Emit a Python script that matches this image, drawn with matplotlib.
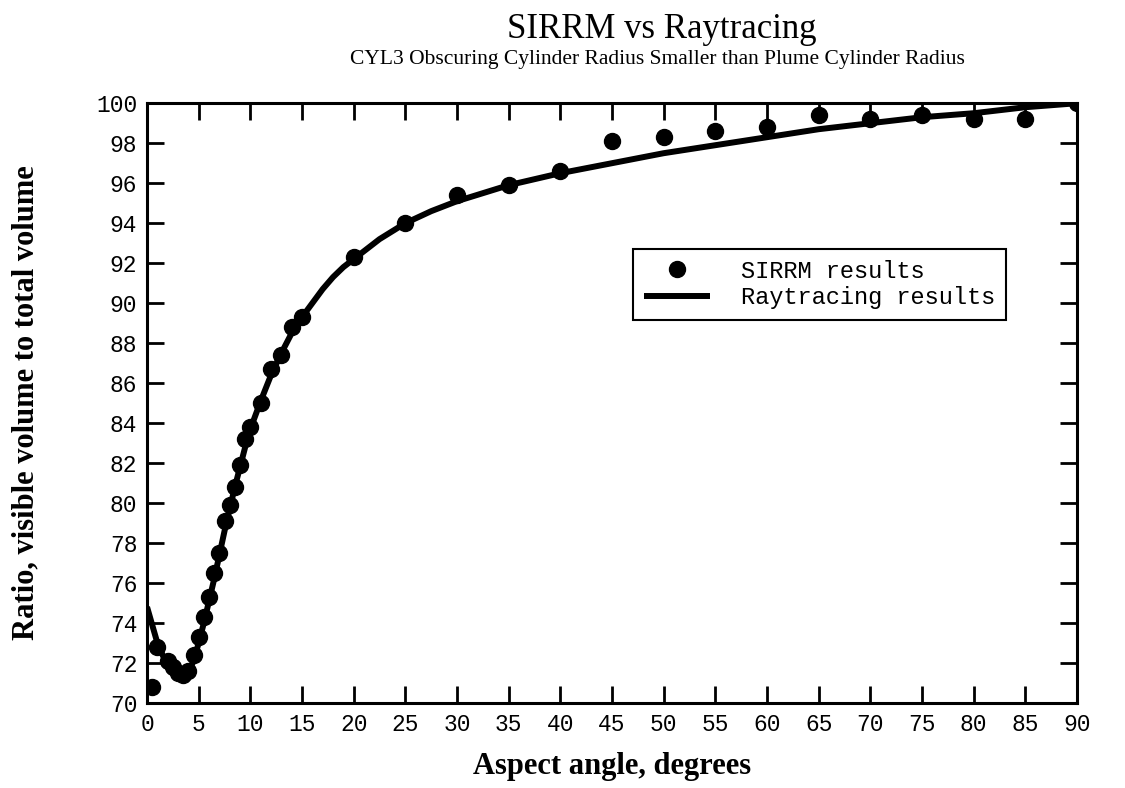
import matplotlib
matplotlib.use("Agg")
import matplotlib.pyplot as plt
from matplotlib.ticker import MultipleLocator

# SIRRM results (aspect angle in degrees, ratio in percent)
sirrm_angle = [0.5, 1, 2, 2.5, 3, 3.5, 4, 4.5, 5, 5.5, 6, 6.5, 7, 7.5, 8, 8.5,
               9, 9.5, 10, 11, 12, 13, 14, 15, 20, 25, 30, 35, 40, 45, 50, 55,
               60, 65, 70, 75, 80, 85, 90]
sirrm_ratio = [70.8, 72.8, 72.1, 71.8, 71.5, 71.4, 71.6, 72.4, 73.3, 74.3, 75.3,
               76.5, 77.5, 79.1, 79.9, 80.8, 81.9, 83.2, 83.8, 85.0, 86.7, 87.4,
               88.8, 89.3, 92.3, 94.0, 95.4, 95.9, 96.6, 98.1, 98.3, 98.6, 98.8,
               99.4, 99.2, 99.4, 99.2, 99.2, 100.0]

# Raytracing results
ray_angle = [0, 0.5, 1, 1.5, 2, 2.5, 3, 3.5, 4, 4.5, 5, 5.5, 6, 6.5, 7, 7.5, 8,
             8.5, 9, 9.5, 10, 11, 12, 13, 14, 15, 16, 17, 18, 19, 20, 22.5, 25,
             27.5, 30, 35, 40, 45, 50, 55, 60, 65, 70, 75, 80, 85, 90]
ray_ratio = [74.8, 73.9, 73.0, 72.4, 71.9, 71.5, 71.3, 71.3, 71.5, 72.1, 73.0,
             74.0, 75.1, 76.2, 77.4, 78.6, 79.7, 80.8, 81.8, 82.8, 83.7, 85.1,
             86.4, 87.5, 88.5, 89.3, 90.0, 90.7, 91.3, 91.8, 92.2, 93.2, 94.0,
             94.6, 95.1, 95.9, 96.5, 97.0, 97.5, 97.9, 98.3, 98.7, 99.0, 99.3,
             99.5, 99.8, 100.0]

serif = "Liberation Serif"
mono = "Liberation Mono"

fig = plt.figure(figsize=(11.25, 7.88), dpi=100)
ax = fig.add_axes([0.1307, 0.108, 0.8266, 0.761])

ax.plot(ray_angle, ray_ratio, color="black", linewidth=4.3,
        solid_capstyle="butt", solid_joinstyle="round",
        label="Raytracing results", zorder=2)
ax.plot(sirrm_angle, sirrm_ratio, "o", color="black", markersize=11.5,
        label="SIRRM results", zorder=3)

ax.set_xlim(0, 90)
ax.set_ylim(70, 100)
ax.xaxis.set_major_locator(MultipleLocator(5))
ax.yaxis.set_major_locator(MultipleLocator(2))
ax.tick_params(direction="in", length=12, width=2, top=True, right=True,
               labelsize=16.5, pad=7)
for lab in ax.get_xticklabels() + ax.get_yticklabels():
    lab.set_family(mono)
for sp in ax.spines.values():
    sp.set_linewidth(2.2)

ax.set_xlabel("Aspect angle, degrees", family=serif, fontsize=22,
              fontweight="bold", labelpad=12)
ax.set_ylabel("Ratio, visible volume to total volume", family=serif,
              fontsize=22, fontweight="bold", labelpad=40)

fig.text(0.588, 0.962, "SIRRM vs Raytracing", family=serif, fontsize=25,
         ha="center", va="center")
fig.text(0.584, 0.925, "CYL3 Obscuring Cylinder Radius Smaller than Plume Cylinder Radius",
         family=serif, fontsize=15.5, ha="center", va="center")

handles, labels = ax.get_legend_handles_labels()
leg = ax.legend(handles[::-1], labels[::-1], loc="upper left",
                bbox_to_anchor=(0.523, 0.757), prop={"family": mono, "size": 17},
                frameon=True, fancybox=False, framealpha=1, borderpad=0.45,
                handlelength=2.8, handletextpad=1.3, labelspacing=0.15,
                borderaxespad=0)
leg.get_frame().set_edgecolor("black")
leg.get_frame().set_linewidth(1.5)

fig.savefig("out.png", dpi=100)
